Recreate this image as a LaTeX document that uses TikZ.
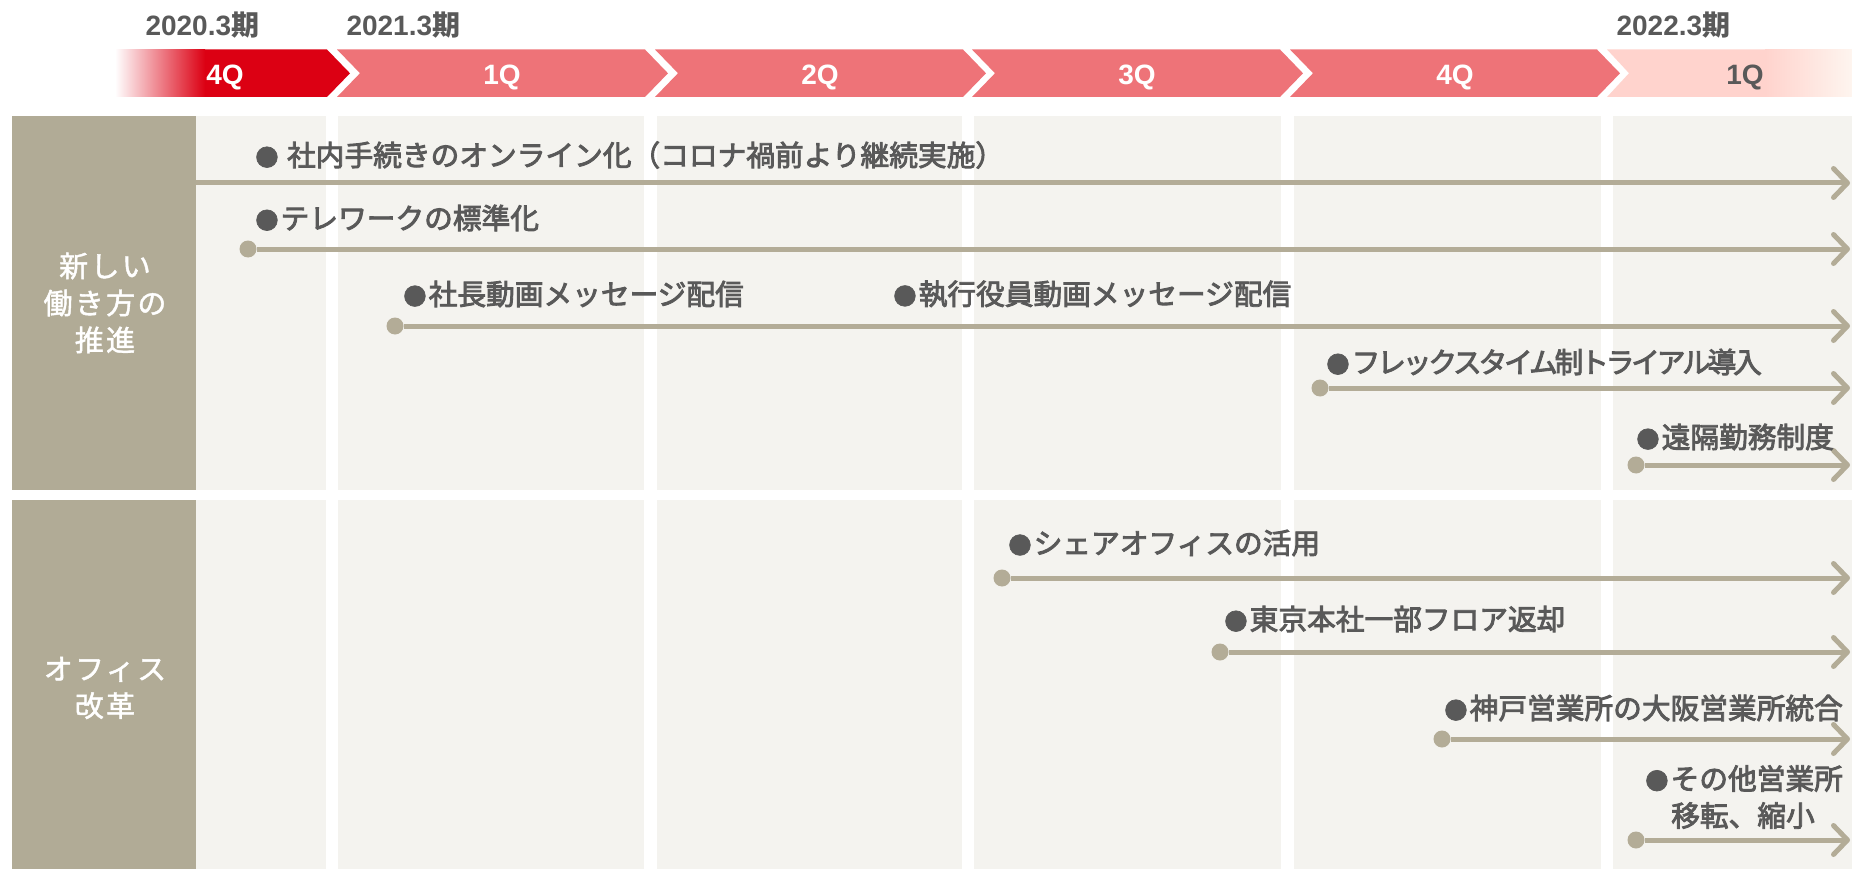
\documentclass[tikz,border=0pt]{standalone}
\usepackage{fontspec}
\usepackage{tikz}
\usetikzlibrary{arrows.meta}
\setmainfont{Liberation Sans}
\newfontfamily\jp{Noto Sans CJK JP}
\newfontfamily\jpfat{Noto Sans CJK JP}[FakeBold=3]
\newfontfamily\jpwide{Noto Sans CJK JP}[LetterSpace=8,FakeBold=1.5]
\newcommand\itemfont{\jpfat\fontsize{28.7}{37}\selectfont}
\newcommand\headfont{\jpwide\fontsize{29}{37}\selectfont}
\newcommand\bul{\makebox[27.5pt]{\fontsize{23}{23}\selectfont ●}}
\definecolor{taupe}{HTML}{B1AB96}
\definecolor{panel}{HTML}{F4F3EF}
\definecolor{txtgray}{HTML}{595959}
\definecolor{qred}{HTML}{DC0013}
\definecolor{qpink}{HTML}{EE7378}
\definecolor{qlight}{HTML}{FFD3CD}
\definecolor{qpeach}{HTML}{FBE0D0}
\definecolor{qfade}{HTML}{FEF5EF}
\definecolor{flowc}{HTML}{B3AC97}

\begin{document}
\begin{tikzpicture}[x=1pt,y=-1pt,
  dot/.style={circle,fill=flowc,inner sep=0pt,minimum size=17pt},
  item/.style={anchor=west,inner sep=0pt,text=txtgray,font=\itemfont},
  flow/.style={draw=flowc,line width=5pt,-{Straight Barb[length=14pt,width=29pt,round]}},
  head/.style={text=white,align=center,font=\headfont},
  qlab/.style={anchor=base,text=white,font=\bfseries\fontsize{28}{28}\selectfont},
  year/.style={anchor=base west,text=txtgray,font=\bfseries\fontsize{28}{28}\selectfont}]
\useasboundingbox (0,0) rectangle (1852,869);

% panels
\fill[taupe] (12,116) rectangle (196,490);
\fill[taupe] (12,500) rectangle (196,869);
\foreach \xa/\xb in {196/326,338/644,657/962,974/1281,1294/1601,1613/1852}{
  \fill[panel] (\xa,116) rectangle (\xb,490);
  \fill[panel] (\xa,500) rectangle (\xb,869);
}

% quarter band
\fill[qred] (115,49.5) -- (327,49.5) -- (350,73.3) -- (327,97) -- (115,97) -- cycle;
\shade[left color=white,right color=qred] (115,49.5) rectangle (205,97);
\foreach \l/\r in {337/645,655/963,972/1280,1290/1597}
  \fill[qpink] (\l,49.5) -- (\r,49.5) -- ++(23,23.8) -- (\r,97) -- (\l,97) -- ++(23,-23.8) -- cycle;
\fill[qlight] (1607,49.5) -- (1852,49.5) -- (1852,97) -- (1607,97) -- ++(22,-23.8) -- cycle;
\shade[left color=qlight,middle color=qpeach,right color=qfade] (1765,49.5) rectangle (1852,97);

\node[qlab] (q0) at (225,85) {4Q};
\node[qlab] (q1) at (502,85) {1Q};
\node[qlab] (q2) at (820,85) {2Q};
\node[qlab] (q3) at (1137,85) {3Q};
\node[qlab] (q4) at (1455,85) {4Q};
\node[qlab,text=txtgray] (q5) at (1745,85) {1Q};

\node[year] (y20) at (142,36) {2020.3{\jp\bfseries 期}};
\node[year] (y21) at (343,36) {2021.3{\jp\bfseries 期}};
\node[year] (y22) at (1613,36) {2022.3{\jp\bfseries 期}};

% row headers
\node[head] (h1) at (105,303) {新しい\\働き方の\\推進};
\node[head] (h2) at (105,688) {オフィス\\改革};

% new way of working
\coordinate (s1) at (196,183);
\coordinate (e1) at (1850,183);
\draw[flow] (s1) -- (e1);
\node[item] (t1) at (253,155) {\bul\ 社内手続きのオンライン化（コロナ禍前より継続実施）};

\node[dot] (d2) at (248,249) {};
\coordinate (e2) at (1850,249);
\draw[flow] (d2) -- (e2);
\node[item] (t2) at (253,218) {\bul テレワークの標準化};

\node[dot] (d3) at (395,326) {};
\coordinate (e3) at (1850,326);
\draw[flow] (d3) -- (e3);
\node[item] (t3) at (401,294) {\bul 社長動画メッセージ配信};
\node[item] (t3b) at (891,294) {\bul 執行役員動画メッセージ配信};

\node[dot] (d4) at (1320,388) {};
\coordinate (e4) at (1850,388);
\draw[flow] (d4) -- (e4);
\node[item,font=\itemfont\addfontfeature{LetterSpace=-11}] (t4) at (1324,362) {\bul フレックスタイム制トライアル導入};

\node[dot] (d5) at (1636,465) {};
\coordinate (e5) at (1850,465);
\draw[flow] (d5) -- (e5);
\node[item] (t5) at (1634,437) {\bul 遠隔勤務制度};

% office reform
\node[dot] (d6) at (1002,578) {};
\coordinate (e6) at (1850,578);
\draw[flow] (d6) -- (e6);
\node[item] (t6) at (1006,543) {\bul シェアオフィスの活用};

\node[dot] (d7) at (1220,652) {};
\coordinate (e7) at (1850,652);
\draw[flow] (d7) -- (e7);
\node[item] (t7) at (1222,619) {\bul 東京本社一部フロア返却};

\node[dot] (d8) at (1442,739) {};
\coordinate (e8) at (1850,739);
\draw[flow] (d8) -- (e8);
\node[item] (t8) at (1442,708) {\bul 神戸営業所の大阪営業所統合};

\node[dot] (d9) at (1636,840) {};
\coordinate (e9) at (1850,840);
\draw[flow] (d9) -- (e9);
\node[item,anchor=center,align=center] (t9) at (1743,797) {\bul その他営業所\\移転、縮小};
\end{tikzpicture}
\end{document}
